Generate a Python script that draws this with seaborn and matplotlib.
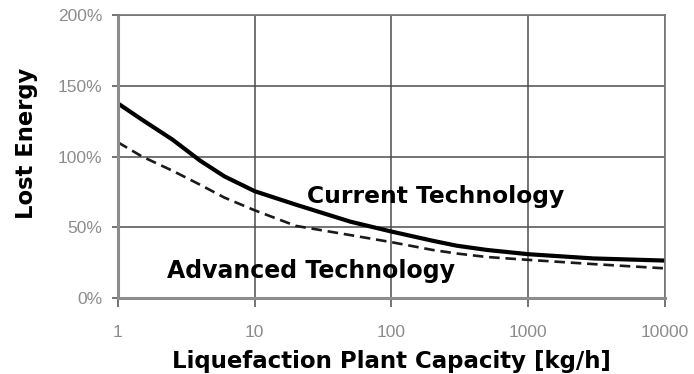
import matplotlib
matplotlib.use("Agg")
import matplotlib.pyplot as plt
import matplotlib.ticker as mticker
import pandas as pd
import seaborn as sns

# Plant capacity [kg/h] and lost energy [%] for the two technologies
capacity = [1, 1.5, 2.5, 4, 6, 10, 20, 50, 100, 200, 300, 500, 1000, 3000, 10000]
current_tech = [137.5, 126, 112, 97, 86, 75.5, 66, 54, 47, 40.5, 37, 34, 31, 28, 26.5]
advanced_tech = [110, 100, 90, 80, 71, 62, 51, 44.5, 39.5, 34, 31.5, 29, 27, 24, 21]

x_ticks = [1, 10, 100, 1000, 10000]
x_ticklabels = ["1", "10", "100", "1000", "10000"]
y_ticks = [0, 50, 100, 150, 200]
y_ticklabels = ["0%", "50%", "100%", "150%", "200%"]

n = len(capacity)
df = pd.DataFrame({
    "capacity": capacity * 2,
    "lost": current_tech + advanced_tech,
    "tech": ["Current Technology"] * n + ["Advanced Technology"] * n,
})

sns.set_theme(style="white")
plt.rcParams["font.family"] = ["DejaVu Sans"]

fig = plt.figure(figsize=(6.94, 3.74), dpi=100)
ax = fig.add_axes([0.170, 0.203, 0.788, 0.757])

sns.lineplot(
    data=df[df.tech == "Current Technology"], x="capacity", y="lost",
    color="black", linewidth=3.0, ax=ax, legend=False,
)
sns.lineplot(
    data=df[df.tech == "Advanced Technology"], x="capacity", y="lost",
    color="#1a1a1a", linewidth=1.9, ax=ax, legend=False,
)
ax.lines[1].set_dashes([4.0, 2.2])

ax.set_xscale("log")
ax.set_xlim(1, 10000)
ax.set_ylim(0, 200)
ax.xaxis.set_major_locator(mticker.FixedLocator(x_ticks))
ax.xaxis.set_minor_locator(mticker.NullLocator())
ax.set_xticks(x_ticks)
ax.set_xticklabels(x_ticklabels, fontfamily="Liberation Sans")
ax.set_yticks(y_ticks)
ax.set_yticklabels(y_ticklabels, fontfamily="Liberation Sans")

ax.grid(True, which="major", color="#4d4d4d", linewidth=1.1)
ax.set_axisbelow(True)
for side in ["top", "right"]:
    ax.spines[side].set_color("#777777")
    ax.spines[side].set_linewidth(1.2)
for side in ["left", "bottom"]:
    ax.spines[side].set_color("#8c8c8c")
    ax.spines[side].set_linewidth(2.2)

ax.tick_params(axis="both", which="major", direction="out", width=1.1,
               color="#4d4d4d", labelcolor="#8c8c8c", labelsize=12.5,
               bottom=True, left=True)
ax.tick_params(axis="x", length=6.5, pad=13)
ax.tick_params(axis="y", length=4.3, pad=7)

ax.set_xlabel("Liquefaction Plant Capacity [kg/h]", fontsize=16.5, fontweight="bold",
              color="black")
ax.xaxis.label.set_va("baseline")
ax.xaxis.set_label_coords(0.5, -0.247)
ax.set_ylabel("Lost Energy", fontsize=16.3, fontweight="bold", color="black")
ax.yaxis.label.set_va("center")
ax.yaxis.set_label_coords(-0.168, 0.548)

ax.text(0.3455, 0.336, "Current Technology", transform=ax.transAxes,
        fontsize=16.8, fontweight="bold", color="black", ha="left", va="baseline")
ax.text(0.0896, 0.0707, "Advanced Technology", transform=ax.transAxes,
        fontsize=17.0, fontweight="bold", color="black", ha="left", va="baseline")

fig.savefig("out.png", dpi=100)
